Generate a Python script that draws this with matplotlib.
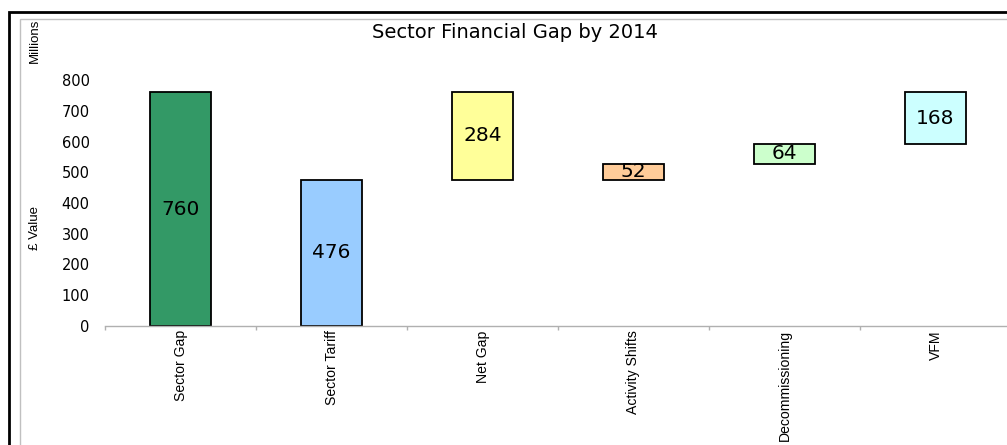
import matplotlib.pyplot as plt
from matplotlib.patches import Rectangle

categories = ["Sector Gap", "Sector Tariff", "Net Gap", "Activity Shifts", "Decommissioning", "VFM"]
bases = [0, 0, 476, 476, 528, 592]
values = [760, 476, 284, 52, 64, 168]
colors = ["#339966", "#99CCFF", "#FFFF99", "#FFCC99", "#CCFFCC", "#CCFFFF"]
yticks = [0, 100, 200, 300, 400, 500, 600, 700, 800]

plt.rcParams['font.family'] = ['Liberation Sans', 'DejaVu Sans']
wide = ['DejaVu Sans']

fig = plt.figure(figsize=(10.07, 4.45), dpi=100)

# outer frame and inner border (cut off on the right and bottom)
fig.add_artist(Rectangle((8.5 / 1007, -0.1), 1.2, (445 - 11.5) / 445 + 0.1,
                         transform=fig.transFigure, fill=False, ec="black", lw=2))
fig.add_artist(Rectangle((19.5 / 1007, -0.1), 1.2, (445 - 19.5) / 445 + 0.1,
                         transform=fig.transFigure, fill=False, ec="#c0c0c0", lw=1))

ax = fig.add_axes([105 / 1007, (445 - 326) / 445, 906 / 1007, 246 / 445])
x = list(range(len(categories)))
ax.bar(x, values, bottom=bases, width=0.41, color=colors, edgecolor="black", linewidth=1.3)

for xi, b, v in zip(x, bases, values):
    ax.text(xi, b + v / 2, str(v), ha="center", va="center", fontsize=14.5, family=wide)

ax.set_xlim(-0.5, len(categories) - 0.5)
ax.set_ylim(0, 800)
ax.set_yticks(yticks)
ax.set_yticklabels([str(t) for t in yticks], fontsize=10.5, family=wide)
ax.tick_params(axis="y", length=0, pad=11)

ax.set_xticks([i - 0.5 for i in range(len(categories) + 1)])
ax.set_xticklabels([])
ax.set_xticks(x, minor=True)
ax.set_xticklabels(categories, minor=True, rotation=90, va="top", ha="center", fontsize=10.1)
ax.tick_params(axis="x", which="major", length=3, color="#b0b0b0", width=1)
ax.tick_params(axis="x", which="minor", length=0, pad=3)

for s in ["top", "right", "left"]:
    ax.spines[s].set_visible(False)
ax.spines["bottom"].set_color("#b0b0b0")
ax.spines["bottom"].set_linewidth(1)

fig.text(515 / 1007, 1 - 33 / 445, "Sector Financial Gap by 2014", ha="center", va="center",
         fontsize=14, family=wide)
fig.text(35 / 1007, 1 - 228 / 445, "£ Value", rotation=90, ha="center", va="center", fontsize=9.5)
fig.text(35 / 1007, 1 - 19 / 445, "Millions", rotation=90, ha="center", va="top", fontsize=9.5)

fig.savefig("out.png", dpi=100)
